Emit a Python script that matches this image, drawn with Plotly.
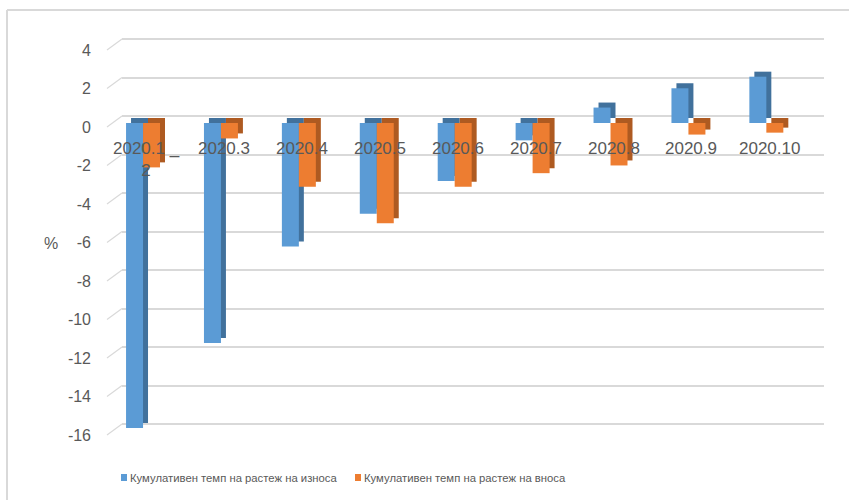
import plotly.graph_objects as go

categories = ["2020.1-2", "2020.3", "2020.4", "2020.5", "2020.6", "2020.7", "2020.8", "2020.9", "2020.10"]
cat_labels = ["2020.1 _<br>2", "2020.3", "2020.4", "2020.5", "2020.6", "2020.7", "2020.8", "2020.9", "2020.10"]
export_growth = [-15.8, -11.4, -6.4, -4.7, -3.0, -0.9, 0.8, 1.8, 2.4]
import_growth = [-2.3, -0.8, -3.3, -5.2, -3.3, -2.6, -2.2, -0.6, -0.5]
y_ticks = [4, 2, 0, -2, -4, -6, -8, -10, -12, -14, -16]
y_tick_text = ["4", "2", "0", "-2", "-4", "-6", "-8", "-10", "-12", "-14", "-16"]
name_export = "Кумулативен темп на растеж на износа"
name_import = "Кумулативен темп на растеж на вноса"

W, H = 849, 500
L, R, T, B = 122, 25, 30, 60
PW, PH = W - L - R, H - T - B

def px_x(x):
    return (x - L) / PW

def px_y(y):
    return (H - B - y) / PH

GREY = "#595959"
GRID = "#D9D9D9"
FONT = "Liberation Sans, Arial, sans-serif"

BW = 0.218      # bar width in category units
DX = 0.064      # depth shift x
DY = 0.26       # depth shift y (data units)

idx = list(range(len(categories)))

fig = go.Figure()

def add_series(vals, off, front, side, name):
    fig.add_trace(go.Bar(x=idx, y=vals, base=[DY] * len(vals), offset=off + DX, width=BW,
                         marker=dict(color=side, line=dict(width=0)), yaxis="y2",
                         showlegend=False, hoverinfo="skip"))
    fig.add_trace(go.Bar(x=idx, y=vals, offset=off, width=BW, name=name,
                         customdata=categories,
                         hovertemplate="%{customdata}: %{y}<extra>" + name + "</extra>",
                         marker=dict(color=front, line=dict(width=0)), yaxis="y2",
                         showlegend=False))

add_series(export_growth, -BW, "#5B9BD5", "#41719C", name_export)
add_series(import_growth, 0.0, "#ED7D31", "#AE5A21", name_import)

shapes = []
annotations = []

# diagonal floor connectors for the ticks
for v in y_ticks:
    shapes.append(dict(type="line", xref="paper", yref="y", x0=px_x(107), x1=0,
                       y0=v - 11 / 19.25, y1=v, line=dict(color=GRID, width=1.2)))

# outer border (left and top)
shapes.append(dict(type="line", xref="paper", yref="paper", x0=px_x(7), x1=px_x(7),
                   y0=px_y(10), y1=px_y(505), line=dict(color=GRID, width=2)))
shapes.append(dict(type="line", xref="paper", yref="paper", x0=px_x(7), x1=px_x(855),
                   y0=px_y(10), y1=px_y(10), line=dict(color=GRID, width=2)))

# category labels
for i, lab in zip(idx, cat_labels):
    annotations.append(dict(x=i, y=-0.72, xref="x", yref="y2", text=lab, showarrow=False,
                            xshift=3, yanchor="top", align="center",
                            font=dict(family=FONT, size=17, color=GREY)))

# y-axis title
annotations.append(dict(x=px_x(51), y=px_y(243), xref="paper", yref="paper", text="%",
                        showarrow=False, xanchor="center",
                        font=dict(family=FONT, size=16, color=GREY)))

# custom legend
for sx, color, name in [(121, "#5B9BD5", name_export), (355, "#ED7D31", name_import)]:
    shapes.append(dict(type="rect", xref="paper", yref="paper", x0=px_x(sx), x1=px_x(sx + 6),
                       y0=px_y(481), y1=px_y(474), fillcolor=color, line=dict(width=0)))
    annotations.append(dict(x=px_x(sx + 7), y=px_y(478), xref="paper", yref="paper", text=name,
                            showarrow=False, xanchor="left", yanchor="middle",
                            font=dict(family=FONT, size=11.3, color=GREY)))

fig.update_layout(
    width=W, height=H,
    margin=dict(l=L, r=R, t=T, b=B),
    paper_bgcolor="white", plot_bgcolor="white",
    barmode="overlay",
    showlegend=False,
    xaxis=dict(type="linear", range=[-0.27, 8.74], showgrid=False, zeroline=False,
               showticklabels=False, showline=False),
    yaxis=dict(range=[-16.831, 4.468], tickvals=y_ticks, ticktext=y_tick_text,
               showgrid=True, gridcolor=GRID,
               gridwidth=1.5, zeroline=False, showline=False, ticks="",
               ticklabelshift=11, ticklabelstandoff=30,
               tickfont=dict(family=FONT, size=16, color=GREY)),
    yaxis2=dict(range=[-16.425, 4.819], overlaying="y", showgrid=False, zeroline=False,
                showticklabels=False, showline=False),
    shapes=shapes,
    annotations=annotations,
)

fig.write_html("out.html", config={"displayModeBar": False},
               post_script="document.body.style.margin='0px';")
